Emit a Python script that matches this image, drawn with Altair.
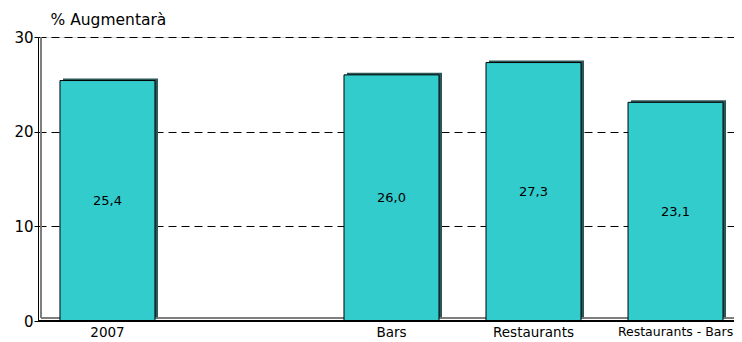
import altair as alt
import pandas as pd

categories = ["2007", " ", "Bars", "Restaurants", "Restaurants - Bars"]
bar_categories = ["2007", "Bars", "Restaurants", "Restaurants - Bars"]
values = [25.4, 26.0, 27.3, 23.1]
y_ticks = [0, 10, 20, 30]

df = pd.DataFrame({"cat": bar_categories, "value": values})

W, H = 696, 284
FONT = "DejaVu Sans"
LAST = "datum.value === 'Restaurants - Bars'"

x_enc = alt.X("cat:N", scale=alt.Scale(type="band", domain=categories, paddingInner=0.331,
                                       paddingOuter=0.116, align=0.667),
              sort=categories,
              axis=alt.Axis(title=None, labelAngle=0, ticks=False, domain=False, labelFont=FONT,
                            labelFontSize={"condition": {"test": LAST, "value": 12.5}, "value": 13.5},
                            labelColor="#000", labelPadding=4))
y_scale = alt.Scale(domain=[0, 30], nice=False)

base = alt.Chart(df)

shadow = base.mark_bar(color="#2d5656", xOffset=3, yOffset=-2).encode(
    x=x_enc,
    y=alt.Y("value:Q", scale=y_scale,
            axis=alt.Axis(values=y_ticks, title="% Augmentarà", titleAngle=0, titleAlign="left",
                          titleBaseline="alphabetic", titleX=12, titleY=-13, titleFont=FONT,
                          titleFontSize=15.5, titleFontWeight="normal", titleColor="#000",
                          labelFont=FONT, labelFontSize=15, labelColor="#000", tickColor="#000",
                          tickSize=4, domainColor="#000", grid=True, gridColor="#000",
                          gridDash=[8, 5], gridWidth=1, labelPadding=1)),
)

bars = base.mark_bar(color="#33CCCC", stroke="#000", strokeWidth=1).encode(
    x=x_enc,
    y=alt.Y("value:Q", scale=y_scale),
)

labels = base.transform_calculate(
    half="datum.value / 2",
    lbl="replace(format(datum.value, '.1f'), '.', ',')",
).mark_text(font=FONT, fontSize=13, color="#000").encode(
    x=x_enc,
    y=alt.Y("half:Q", scale=y_scale),
    text="lbl:N",
)

wall = alt.Chart(df).mark_rule(color="#777", strokeWidth=1).encode(
    x=alt.value(3), y=alt.value(0), y2=alt.value(H - 3))
floor = alt.Chart(df).mark_rule(color="#777", strokeWidth=1).encode(
    x=alt.value(3), x2=alt.value(W), y=alt.value(H - 3))
bottom = alt.Chart(df).mark_rule(color="#000", strokeWidth=1.5).encode(
    x=alt.value(0), x2=alt.value(W), y=alt.value(H))

chart = alt.layer(shadow, wall, floor, bars, labels, bottom).properties(
    width=W, height=H,
    autosize=alt.AutoSizeParams(type="none"),
    padding={"left": 30, "top": 29, "right": 0, "bottom": 20},
).configure_view(stroke=None).configure(background="white")

chart.save("out.html", embed_options={"renderer": "svg", "actions": False})
